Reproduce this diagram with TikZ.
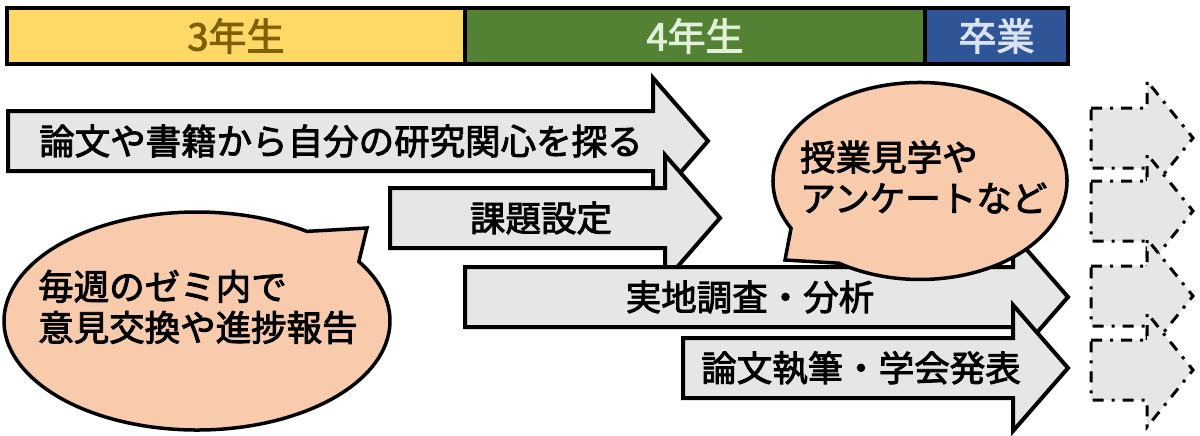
\documentclass[tikz,border=0pt]{standalone}
\usepackage{fontspec}
\setmainfont{Noto Sans CJK JP}
\usepackage{tikz}
\usetikzlibrary{arrows.meta,positioning,calc}

\definecolor{barYellow}{HTML}{FFD966}
\definecolor{barGreen}{HTML}{548235}
\definecolor{barBlue}{HTML}{2F5597}
\definecolor{textGold}{HTML}{7F6000}
\definecolor{textGreen}{HTML}{E2F0D9}
\definecolor{textBlue}{HTML}{DAE3F3}
\definecolor{stageGray}{HTML}{E7E6E6}
\definecolor{bubbleFill}{HTML}{F8CBAD}

% slightly heavier glyphs (fill + stroke)
\newcommand\heavy{\special{pdf:literal direct 2 Tr 0.9 w}}

\tikzset{
  yearbox/.style={draw,line width=4pt,minimum height=56pt,inner sep=0pt,font=\fontsize{38}{40}\selectfont\heavy},
  stage/.style={draw,line width=4pt,fill=stageGray,line join=miter},
  future/.style={draw,line width=3pt,fill=stageGray,line join=miter,dash pattern=on 11pt off 8pt on 3pt off 8pt},
  bubble/.style={draw,line width=3.5pt,fill=bubbleFill},
  stagetext/.style={inner sep=0pt,font=\fontsize{35.5}{41}\selectfont\heavy},
}

\begin{document}
\begin{tikzpicture}[x=1pt,y=-1pt]
\useasboundingbox (0,0) rectangle (1200,436);

% Year bar
\node[yearbox,fill=barYellow,text=textGold,minimum width=458pt] (third) at (236,36) {3年生};
\node[yearbox,fill=barGreen,text=textGreen,minimum width=460pt] (fourth) at (695,36) {4年生};
\node[yearbox,fill=barBlue,text=textBlue,minimum width=143pt] (grad) at (996.5,36) {卒業};

% Solid arrows: start x / head x / centre y
\foreach \xs/\xh/\yc in {8/653/141, 390/665/218, 465/1013/297, 683/1013/368}{
    \draw[stage] (\xs,\yc-30) -- (\xh,\yc-30) -- (\xh,\yc-63) -- (\xh+55,\yc)
        -- (\xh,\yc+63) -- (\xh,\yc+30) -- (\xs,\yc+30) -- cycle;
}

% Labels for arrows
\node[stagetext,anchor=west] (interest) at (39,141) {論文や書籍から自分の研究関心を探る};
\node[stagetext] (theme) at (541,218) {課題設定};
\node[stagetext] (survey) at (750,297) {実地調査・分析};
\node[stagetext] (thesis) at (861,368) {論文執筆・学会発表};

% Dashed arrows after graduation
\foreach \yc in {138, 211, 296, 370}{
    \draw[future] (1091,\yc-30) -- (1147,\yc-30) -- (1147,\yc-57) -- (1193,\yc)
        -- (1147,\yc+57) -- (1147,\yc+30) -- (1091,\yc+30) -- cycle;
}

% Speech bubbles
\draw[bubble] (197,321) ++(327:193 and 109) arc[start angle=327,end angle=664.7,x radius=193,y radius=109]
    -- (367,228) -- cycle;
\draw[bubble] (920,181) ++(151.3:147 and 98.5) arc[start angle=151.3,end angle=483.4,x radius=147,y radius=98.5]
    -- (785,260) -- cycle;

\node[stagetext,anchor=west,align=left] (seminar) at (38,307) {毎週のゼミ内で\\意見交換や進捗報告};
\node[stagetext,anchor=west,align=left] (fieldwork) at (800,177) {授業見学や\\アンケートなど};

\end{tikzpicture}
\end{document}
